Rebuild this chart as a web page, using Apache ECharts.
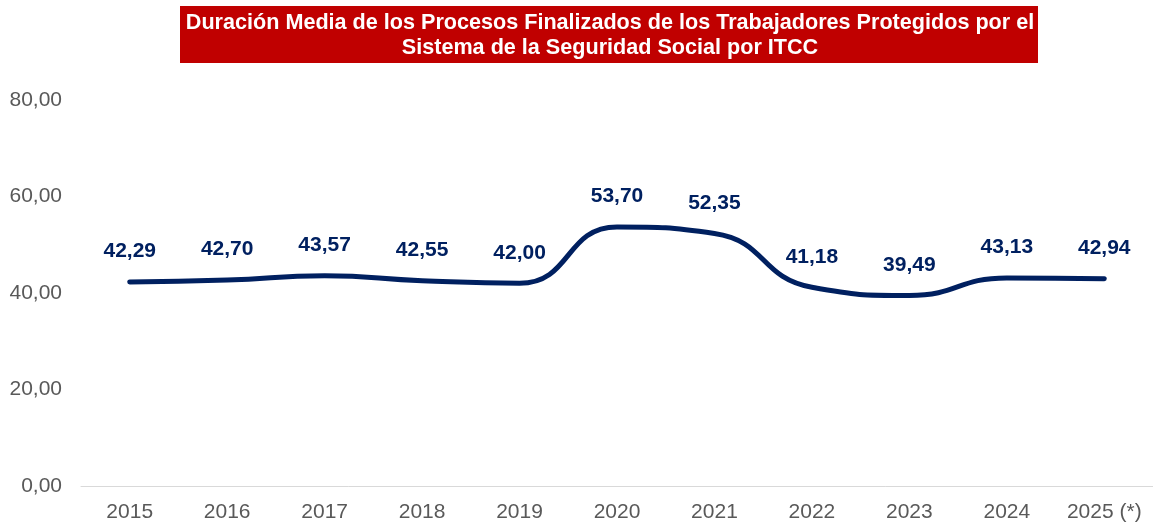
<!DOCTYPE html>
<html>
<head>
<meta charset="utf-8">
<script src="https://cdn.jsdelivr.net/npm/echarts@6/dist/echarts.min.js"></script>
<style>
html, body { margin: 0; padding: 0; background: #fff; }
#myChart { width: 1153px; height: 523px; }
</style>
</head>
<body>
<div id="myChart"></div>
<script>
// datos del gráfico
const years = ['2015', '2016', '2017', '2018', '2019', '2020', '2021', '2022', '2023', '2024', '2025 (*)']
const duracionMedia = [42.29, 42.70, 43.57, 42.55, 42.00, 53.70, 52.35, 41.18, 39.49, 43.13, 42.94]
const yTicks = [0, 20, 40, 60, 80]

const fmt = v => Number(v).toFixed(2).replace('.', ',')

let myChart = echarts.init(document.getElementById('myChart'))
myChart.setOption({
  animation: false,
  graphic: [
    {
      type: 'rect',
      shape: { x: 180, y: 6, width: 858, height: 57 },
      style: { fill: '#C00000' },
    },
    {
      type: 'text',
      x: 610,
      y: 36,
      style: {
        text: 'Duración Media de los Procesos Finalizados de los Trabajadores Protegidos por el\nSistema de la Seguridad Social por ITCC',
        fill: '#ffffff',
        font: 'bold 21.6px "Liberation Sans", Arial, sans-serif',
        align: 'center',
        verticalAlign: 'middle',
        lineHeight: 25,
      },
    },
  ],
  grid: {
    left: 81,
    top: 100,
    width: 1078,
    height: 386,
  },
  xAxis: {
    type: 'category',
    data: years,
    boundaryGap: true,
    axisLine: { lineStyle: { color: '#d9d9d9', width: 1 } },
    axisTick: { show: false },
    axisLabel: {
      color: '#595959',
      fontSize: 21,
      fontFamily: '"Liberation Sans", Arial, sans-serif',
      margin: 16,
      interval: 0,
    },
  },
  yAxis: {
    type: 'value',
    min: yTicks[0],
    max: yTicks[yTicks.length - 1],
    interval: 20,
    splitLine: { show: false },
    axisLine: { show: false },
    axisTick: { show: false },
    axisLabel: {
      color: '#595959',
      fontSize: 21,
      fontFamily: '"Liberation Sans", Arial, sans-serif',
      margin: 19,
      formatter: v => fmt(v),
    },
  },
  series: [
    {
      name: 'Duración media',
      type: 'line',
      data: duracionMedia,
      smooth: 0.5,
      symbol: 'circle',
      symbolSize: 2,
      itemStyle: { color: '#002060' },
      lineStyle: { color: '#002060', width: 5, cap: 'round' },
      label: {
        show: true,
        position: 'top',
        distance: 19,
        color: '#002060',
        fontSize: 21,
        fontWeight: 'bold',
        fontFamily: '"Liberation Sans", Arial, sans-serif',
        formatter: p => fmt(p.value),
      },
    },
  ],
})
</script>
</body>
</html>
